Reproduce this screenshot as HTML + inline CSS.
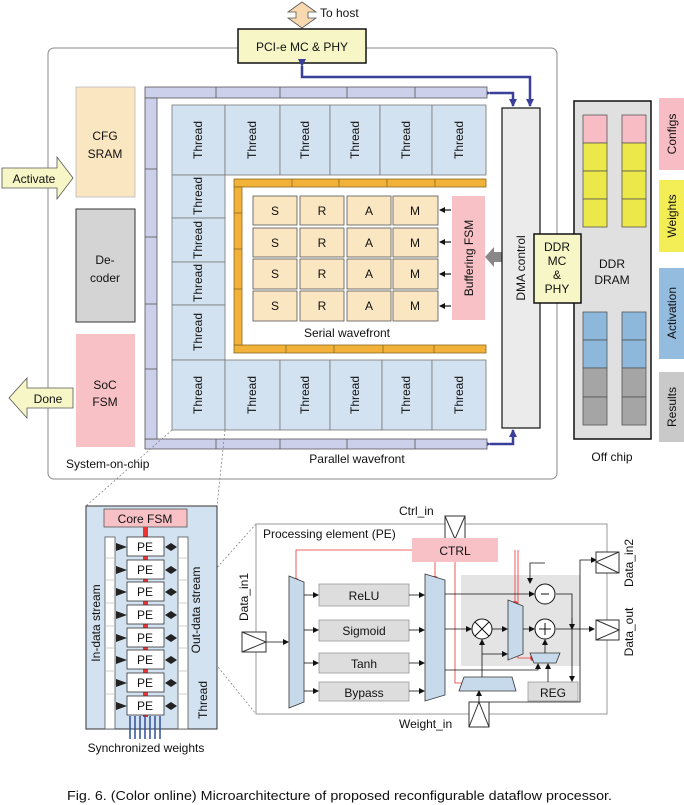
<!DOCTYPE html>
<html><head><meta charset="utf-8"><style>
html,body{margin:0;padding:0;background:#fff}
svg{display:block}
text{font-family:"Liberation Sans",sans-serif;fill:#111}
</style></head><body>
<svg width="684" height="805" viewBox="0 0 684 805" xmlns="http://www.w3.org/2000/svg">
<defs>
<marker id="ab" markerWidth="6" markerHeight="6" refX="5" refY="3" orient="auto" markerUnits="userSpaceOnUse"><path d="M0,0 L6,3 L0,6z" fill="#111"/></marker>
<marker id="au" markerWidth="8" markerHeight="8" refX="7" refY="4" orient="auto" markerUnits="userSpaceOnUse"><path d="M0,0 L8,4 L0,8z" fill="#3a3f9a"/></marker>
</defs>

<polygon points="302,2 316,12 308,12 308,18 316,18 302,28 288,18 296,18 296,12 288,12" fill="#f8d9b0" stroke="#555" stroke-width="0.8"/>
<text x="320" y="17" font-size="12">To host</text>

<rect x="48" y="48" width="509" height="431" rx="6" fill="none" stroke="#888" stroke-width="1"/>
<rect x="238" y="29" width="128" height="34" fill="#f6f6c6" stroke="#111" stroke-width="1.5"/>
<text x="302" y="51" font-size="12" text-anchor="middle">PCI-e MC &amp; PHY</text>

<path d="M302,66 V77 H530 V106" fill="none" stroke="#3a3f9a" stroke-width="2.5" marker-end="url(#au)" marker-start="url(#au)"/>
<path d="M490,93 H513 V106" fill="none" stroke="#3a3f9a" stroke-width="2.5" marker-end="url(#au)" marker-start="url(#au)"/>
<path d="M490,444 H513 V430" fill="none" stroke="#3a3f9a" stroke-width="2.5" marker-end="url(#au)" marker-start="url(#au)"/>

<g fill="#cdd0ea" stroke="#555" stroke-width="0.8">
<rect x="145" y="87" width="342" height="11"/>
<rect x="145" y="439" width="342" height="10"/>
<rect x="145" y="98" width="12" height="341"/>
</g>
<g stroke="#555" stroke-width="0.8">
<line x1="216" y1="87" x2="216" y2="98"/><line x1="280" y1="87" x2="280" y2="98"/><line x1="347" y1="87" x2="347" y2="98"/><line x1="415" y1="87" x2="415" y2="98"/>
<line x1="216" y1="439" x2="216" y2="449"/><line x1="280" y1="439" x2="280" y2="449"/><line x1="347" y1="439" x2="347" y2="449"/><line x1="415" y1="439" x2="415" y2="449"/>
<line x1="145" y1="169" x2="157" y2="169"/><line x1="145" y1="237" x2="157" y2="237"/><line x1="145" y1="304" x2="157" y2="304"/><line x1="145" y1="369" x2="157" y2="369"/>
</g>

<g fill="#d3e2f0" stroke="#777" stroke-width="0.8">
<rect x="172" y="105" width="53" height="70"/><rect x="225" y="105" width="55" height="70"/><rect x="280" y="105" width="50" height="70"/><rect x="330" y="105" width="50" height="70"/><rect x="380" y="105" width="52" height="70"/><rect x="432" y="105" width="54" height="70"/>
<rect x="172" y="175" width="53" height="43"/><rect x="172" y="218" width="53" height="44"/><rect x="172" y="262" width="53" height="43"/><rect x="172" y="305" width="53" height="55"/>
<rect x="172" y="360" width="53" height="70"/><rect x="225" y="360" width="55" height="70"/><rect x="280" y="360" width="50" height="70"/><rect x="330" y="360" width="52" height="70"/><rect x="382" y="360" width="50" height="70"/><rect x="432" y="360" width="54" height="70"/>
</g>
<g font-size="12" text-anchor="middle">
<text transform="translate(202,140) rotate(-90)">Thread</text><text transform="translate(256,140) rotate(-90)">Thread</text><text transform="translate(309,140) rotate(-90)">Thread</text><text transform="translate(359,140) rotate(-90)">Thread</text><text transform="translate(410,140) rotate(-90)">Thread</text><text transform="translate(463,140) rotate(-90)">Thread</text>
<text transform="translate(202,196) rotate(-90)">Thread</text><text transform="translate(202,240) rotate(-90)">Thread</text><text transform="translate(202,283) rotate(-90)">Thread</text><text transform="translate(202,332) rotate(-90)">Thread</text>
<text transform="translate(202,395) rotate(-90)">Thread</text><text transform="translate(256,395) rotate(-90)">Thread</text><text transform="translate(309,395) rotate(-90)">Thread</text><text transform="translate(359,395) rotate(-90)">Thread</text><text transform="translate(410,395) rotate(-90)">Thread</text><text transform="translate(463,395) rotate(-90)">Thread</text>
</g>

<g fill="#f2b23a" stroke="#8a6a20" stroke-width="0.8">
<rect x="234" y="179" width="252" height="8"/><rect x="234" y="345" width="252" height="8"/><rect x="234" y="187" width="8" height="158"/>
</g>
<g stroke="#8a6a20" stroke-width="0.8">
<line x1="292" y1="179" x2="292" y2="187"/><line x1="339" y1="179" x2="339" y2="187"/><line x1="387" y1="179" x2="387" y2="187"/><line x1="435" y1="179" x2="435" y2="187"/>
<line x1="286" y1="345" x2="286" y2="353"/><line x1="334" y1="345" x2="334" y2="353"/><line x1="383" y1="345" x2="383" y2="353"/><line x1="434" y1="345" x2="434" y2="353"/>
<line x1="234" y1="213" x2="242" y2="213"/><line x1="234" y1="249" x2="242" y2="249"/><line x1="234" y1="289" x2="242" y2="289"/>
</g>

<g fill="#fbe6c2" stroke="#555" stroke-width="0.8">
<rect x="253" y="196" width="44" height="29"/><rect x="300" y="196" width="44" height="29"/><rect x="347" y="196" width="44" height="29"/><rect x="393" y="196" width="45" height="29"/>
<rect x="253" y="228" width="44" height="29"/><rect x="300" y="228" width="44" height="29"/><rect x="347" y="228" width="44" height="29"/><rect x="393" y="228" width="45" height="29"/>
<rect x="253" y="259" width="44" height="30"/><rect x="300" y="259" width="44" height="30"/><rect x="347" y="259" width="44" height="30"/><rect x="393" y="259" width="45" height="30"/>
<rect x="253" y="291" width="44" height="30"/><rect x="300" y="291" width="44" height="30"/><rect x="347" y="291" width="44" height="30"/><rect x="393" y="291" width="45" height="30"/>
</g>
<g font-size="12" text-anchor="middle">
<text x="275" y="215">S</text><text x="322" y="215">R</text><text x="369" y="215">A</text><text x="415" y="215">M</text>
<text x="275" y="247">S</text><text x="322" y="247">R</text><text x="369" y="247">A</text><text x="415" y="247">M</text>
<text x="275" y="278">S</text><text x="322" y="278">R</text><text x="369" y="278">A</text><text x="415" y="278">M</text>
<text x="275" y="310">S</text><text x="322" y="310">R</text><text x="369" y="310">A</text><text x="415" y="310">M</text>
</g>
<g stroke="#111" stroke-width="1.2" marker-end="url(#ab)">
<line x1="451" y1="210" x2="440" y2="210"/><line x1="451" y1="242" x2="440" y2="242"/><line x1="451" y1="274" x2="440" y2="274"/><line x1="451" y1="306" x2="440" y2="306"/>
</g>
<text x="347" y="337" font-size="12" text-anchor="middle">Serial wavefront</text>
<rect x="452" y="196" width="33" height="124" fill="#f7c1c6"/>
<text transform="translate(473,258) rotate(-90)" font-size="12" text-anchor="middle">Buffering FSM</text>
<polygon points="485,257 494,247 494,252 502,252 502,262 494,262 494,267" fill="#888"/>

<rect x="502" y="108" width="38" height="320" fill="#ebebeb" stroke="#111" stroke-width="1.2"/>
<text transform="translate(525,268) rotate(-90)" font-size="12" text-anchor="middle">DMA control</text>

<rect x="574" y="101" width="77" height="338" fill="#e0e0e0" stroke="#111" stroke-width="1.5"/>
<g stroke="#555" stroke-width="0.8">
<rect x="583" y="115" width="24" height="28" fill="#f7bcc4"/><rect x="622" y="115" width="24" height="28" fill="#f7bcc4"/>
<rect x="583" y="143" width="24" height="28" fill="#ece84a"/><rect x="583" y="171" width="24" height="28" fill="#ece84a"/><rect x="583" y="199" width="24" height="28" fill="#ece84a"/>
<rect x="622" y="143" width="24" height="28" fill="#ece84a"/><rect x="622" y="171" width="24" height="28" fill="#ece84a"/><rect x="622" y="199" width="24" height="28" fill="#ece84a"/>
<rect x="583" y="312" width="24" height="28" fill="#8db8dc"/><rect x="583" y="340" width="24" height="28" fill="#8db8dc"/><rect x="583" y="368" width="24" height="29" fill="#a5a5a5"/><rect x="583" y="397" width="24" height="28" fill="#a5a5a5"/>
<rect x="622" y="312" width="24" height="28" fill="#8db8dc"/><rect x="622" y="340" width="24" height="28" fill="#8db8dc"/><rect x="622" y="368" width="24" height="29" fill="#a5a5a5"/><rect x="622" y="397" width="24" height="28" fill="#a5a5a5"/>
</g>
<text x="612" y="268" font-size="12" text-anchor="middle">DDR</text>
<text x="612" y="284" font-size="12" text-anchor="middle">DRAM</text>
<rect x="534" y="234" width="47" height="69" fill="#f6f6c6" stroke="#111" stroke-width="1.5"/>
<g font-size="12" text-anchor="middle"><text x="557" y="251">DDR</text><text x="557" y="265">MC</text><text x="557" y="279">&amp;</text><text x="557" y="293">PHY</text></g>

<rect x="659" y="98" width="25" height="72" fill="#f7bcc4"/>
<rect x="659" y="180" width="25" height="72" fill="#f3ee55"/>
<rect x="659" y="268" width="25" height="91" fill="#94bcdf"/>
<rect x="659" y="372" width="25" height="70" fill="#c9c9c9"/>
<g font-size="12" text-anchor="middle">
<text transform="translate(676,134) rotate(-90)">Configs</text>
<text transform="translate(676,216) rotate(-90)">Weights</text>
<text transform="translate(676,313) rotate(-90)">Activation</text>
<text transform="translate(676,407) rotate(-90)">Results</text>
</g>
<text x="612" y="461" font-size="12" text-anchor="middle">Off chip</text>

<rect x="76" y="87" width="59" height="110" fill="#fbe6c2" stroke="#bbb" stroke-width="0.8"/>
<text x="105" y="140" font-size="12" text-anchor="middle">CFG</text><text x="105" y="158" font-size="12" text-anchor="middle">SRAM</text>
<rect x="76" y="209" width="59" height="113" fill="#d4d4d4" stroke="#333" stroke-width="1"/>
<text x="105" y="264" font-size="12" text-anchor="middle">De-</text><text x="105" y="282" font-size="12" text-anchor="middle">coder</text>
<rect x="76" y="334" width="59" height="113" fill="#f7c1c6"/>
<text x="105" y="389" font-size="12" text-anchor="middle">SoC</text><text x="105" y="406" font-size="12" text-anchor="middle">FSM</text>
<polygon points="2,168 57,168 57,157 73,178 57,199 57,188 2,188" fill="#f6f6c6" stroke="#555" stroke-width="0.8"/>
<text x="34" y="183" font-size="12" text-anchor="middle">Activate</text>
<polygon points="73,388 27,388 27,378 9,398 27,418 27,408 73,408" fill="#f6f6c6" stroke="#555" stroke-width="0.8"/>
<text x="48" y="403" font-size="12" text-anchor="middle">Done</text>
<text x="66" y="468" font-size="12">System-on-chip</text>
<text x="357" y="463" font-size="12" text-anchor="middle">Parallel wavefront</text>

<g stroke="#777" stroke-width="0.7" stroke-dasharray="2,2" fill="none">
<line x1="172" y1="430" x2="86" y2="506"/><line x1="225" y1="430" x2="217" y2="506"/>
<line x1="188" y1="600" x2="256" y2="524"/><line x1="188" y1="630" x2="256" y2="714"/>
</g>

<rect x="86" y="506" width="131" height="223" fill="#d3e2f0" stroke="#333" stroke-width="1"/>
<rect x="104" y="509" width="83" height="18" fill="#f7c1c6" stroke="#555" stroke-width="0.8"/>
<text x="145" y="523" font-size="12" text-anchor="middle">Core FSM</text>
<rect x="143" y="527" width="5" height="190" fill="#e33"/>
<g fill="#fff" stroke="#555" stroke-width="0.8">
<rect x="105" y="537" width="10" height="192"/><rect x="178" y="537" width="10" height="192"/>
</g>
<g stroke="#bbb" stroke-width="0.7">
<line x1="105" y1="558" x2="115" y2="558"/><line x1="105" y1="580" x2="115" y2="580"/><line x1="105" y1="603" x2="115" y2="603"/><line x1="105" y1="626" x2="115" y2="626"/><line x1="105" y1="648" x2="115" y2="648"/><line x1="105" y1="671" x2="115" y2="671"/><line x1="105" y1="694" x2="115" y2="694"/>
<line x1="178" y1="558" x2="188" y2="558"/><line x1="178" y1="580" x2="188" y2="580"/><line x1="178" y1="603" x2="188" y2="603"/><line x1="178" y1="626" x2="188" y2="626"/><line x1="178" y1="648" x2="188" y2="648"/><line x1="178" y1="671" x2="188" y2="671"/><line x1="178" y1="694" x2="188" y2="694"/>
</g>
<g fill="#fff" stroke="#333" stroke-width="0.8">
<rect x="127" y="537" width="37" height="19"/><rect x="127" y="560" width="37" height="19"/><rect x="127" y="582" width="37" height="19"/><rect x="127" y="605" width="37" height="19"/>
<rect x="127" y="628" width="37" height="19"/><rect x="127" y="650" width="37" height="19"/><rect x="127" y="673" width="37" height="19"/><rect x="127" y="696" width="37" height="19"/>
</g>
<g font-size="12" text-anchor="middle">
<text x="145" y="551">PE</text><text x="145" y="574">PE</text><text x="145" y="596">PE</text><text x="145" y="619">PE</text><text x="145" y="642">PE</text><text x="145" y="664">PE</text><text x="145" y="687">PE</text><text x="145" y="710">PE</text>
</g>
<g fill="#222">
<polygon points="116,543 127,547 116,551"/><polygon points="116,566 127,570 116,574"/><polygon points="116,588 127,592 116,596"/><polygon points="116,611 127,615 116,619"/><polygon points="116,634 127,638 116,642"/><polygon points="116,656 127,660 116,664"/><polygon points="116,679 127,683 116,687"/><polygon points="116,702 127,706 116,710"/>
<polygon points="165,547 171,543 171,551"/><polygon points="177,547 171,543 171,551"/>
<polygon points="165,570 171,566 171,574"/><polygon points="177,570 171,566 171,574"/>
<polygon points="165,592 171,588 171,596"/><polygon points="177,592 171,588 171,596"/>
<polygon points="165,615 171,611 171,619"/><polygon points="177,615 171,611 171,619"/>
<polygon points="165,638 171,634 171,642"/><polygon points="177,638 171,634 171,642"/>
<polygon points="165,660 171,656 171,664"/><polygon points="177,660 171,656 171,664"/>
<polygon points="165,683 171,679 171,687"/><polygon points="177,683 171,679 171,687"/>
<polygon points="165,706 171,702 171,710"/><polygon points="177,706 171,702 171,710"/>
</g>
<g stroke="#2f4f9a" stroke-width="1.5">
<line x1="130" y1="739" x2="130" y2="716"/><line x1="135" y1="739" x2="135" y2="716"/><line x1="140" y1="739" x2="140" y2="716"/><line x1="145" y1="739" x2="145" y2="716"/><line x1="150" y1="739" x2="150" y2="716"/><line x1="155" y1="739" x2="155" y2="716"/><line x1="160" y1="739" x2="160" y2="716"/>
</g>
<text transform="translate(100,623) rotate(-90)" font-size="12" text-anchor="middle">In-data stream</text>
<text transform="translate(200,610) rotate(-90)" font-size="12" text-anchor="middle">Out-data stream</text>
<text transform="translate(207,700) rotate(-90)" font-size="12" text-anchor="middle">Thread</text>
<text x="146" y="752" font-size="12" text-anchor="middle">Synchronized weights</text>

<rect x="256" y="524" width="351" height="190" fill="#fff" stroke="#999" stroke-width="1"/>
<text x="263" y="538" font-size="12">Processing element (PE)</text>
<rect x="461" y="575" width="119" height="91" fill="#e4e4e4"/>
<text x="399" y="515" font-size="12">Ctrl_in</text>
<rect x="445" y="516" width="20" height="23" fill="#fff" stroke="#333"/><path d="M445,516 L455,539 L465,516" fill="none" stroke="#333"/>
<rect x="412" y="538" width="86" height="24" fill="#f7c1c6"/>
<text x="455" y="555" font-size="12" text-anchor="middle">CTRL</text>
<g stroke="#e33" stroke-width="0.8" fill="none">
<path d="M412,550 H296 V581"/><path d="M435,562 V578"/>
<path d="M455,562 V683 H465"/><path d="M515,550 V603"/><path d="M518,550 V658 H530"/>
</g>
<g fill="#e33"><circle cx="296" cy="581" r="3"/><circle cx="435" cy="579" r="3"/><circle cx="465" cy="683" r="3"/><circle cx="515" cy="604" r="3"/><circle cx="533" cy="658" r="3"/></g>
<polygon points="289,576 304,582 304,702 289,708" fill="#c7daec" stroke="#333" stroke-width="0.8"/>
<polygon points="425,574 445,580 445,695 425,701" fill="#c7daec" stroke="#333" stroke-width="0.8"/>
<polygon points="508,600 523,606 523,654 508,660" fill="#c7daec" stroke="#333" stroke-width="0.8"/>
<polygon points="530,653 560,653 556,663 534,663" fill="#c7daec" stroke="#333" stroke-width="0.8"/>
<polygon points="464,677 512,677 516,691 459,691" fill="#c7daec" stroke="#333" stroke-width="0.8"/>
<g fill="#ddd" stroke="#999" stroke-width="0.8">
<rect x="319" y="584" width="90" height="22"/><rect x="319" y="620" width="90" height="21"/><rect x="319" y="653" width="90" height="20"/><rect x="319" y="682" width="90" height="19"/>
<rect x="528" y="682" width="50" height="19"/>
</g>
<g font-size="12" text-anchor="middle">
<text x="364" y="600">ReLU</text><text x="364" y="635">Sigmoid</text><text x="364" y="668">Tanh</text><text x="364" y="697">Bypass</text><text x="553" y="697">REG</text>
</g>
<g stroke="#111" stroke-width="0.8" fill="none" marker-end="url(#ab)">
<line x1="304" y1="595" x2="318" y2="595"/><line x1="304" y1="630" x2="318" y2="630"/><line x1="304" y1="663" x2="318" y2="663"/><line x1="304" y1="691" x2="318" y2="691"/>
<line x1="409" y1="595" x2="424" y2="595"/><line x1="409" y1="630" x2="424" y2="630"/><line x1="409" y1="663" x2="424" y2="663"/><line x1="409" y1="691" x2="424" y2="691"/>
<line x1="266" y1="642" x2="288" y2="642"/>
<line x1="445" y1="629" x2="471" y2="629"/><line x1="492" y1="629" x2="507" y2="629"/><line x1="523" y1="629" x2="534" y2="629"/>
<path d="M445,594 H534"/><path d="M556,629 H594"/>
<path d="M545,563 H530 V583"/><path d="M545,653 V640"/>
<path d="M482,677 V640"/><path d="M482,654 H507"/>
<path d="M445,670 H538 V664"/><path d="M572,618 V681"/><path d="M548,682 V664"/>
<path d="M479,702 V691"/><path d="M489,702 H580 V560 H596" marker-end=""/><path d="M556,594 H572 V629"/>
</g>
<g fill="#fff" stroke="#111" stroke-width="1">
<circle cx="482" cy="629" r="10"/><circle cx="545" cy="594" r="10"/><circle cx="545" cy="629" r="10"/>
</g>
<g stroke="#111" stroke-width="1"><line x1="475" y1="622" x2="489" y2="636"/><line x1="489" y1="622" x2="475" y2="636"/><line x1="541" y1="594" x2="549" y2="594"/><line x1="539" y1="629" x2="551" y2="629"/><line x1="545" y1="623" x2="545" y2="635"/></g>
<rect x="242" y="632" width="24" height="20" fill="#fff" stroke="#333"/><path d="M242,632 L266,642 L242,652" fill="none" stroke="#333"/>
<text transform="translate(248,597) rotate(-90)" font-size="12" text-anchor="middle">Data_in1</text>
<rect x="596" y="552" width="23" height="21" fill="#fff" stroke="#333"/><path d="M619,552 L596,562 L619,573" fill="none" stroke="#333"/>
<text transform="translate(633,563) rotate(-90)" font-size="12" text-anchor="middle">Data_in2</text>
<rect x="596" y="620" width="23" height="20" fill="#fff" stroke="#333"/><path d="M596,620 L619,630 L596,640" fill="none" stroke="#333"/>
<text transform="translate(633,632) rotate(-90)" font-size="12" text-anchor="middle">Data_out</text>
<rect x="469" y="702" width="20" height="25" fill="#fff" stroke="#333"/><path d="M469,727 L479,702 L489,727" fill="none" stroke="#333"/>
<text x="399" y="728" font-size="12">Weight_in</text>

<text x="67" y="800" font-size="13" textLength="545" lengthAdjust="spacingAndGlyphs">Fig. 6. (Color online) Microarchitecture of proposed reconfigurable dataflow processor.</text>
</svg>
</body></html>
